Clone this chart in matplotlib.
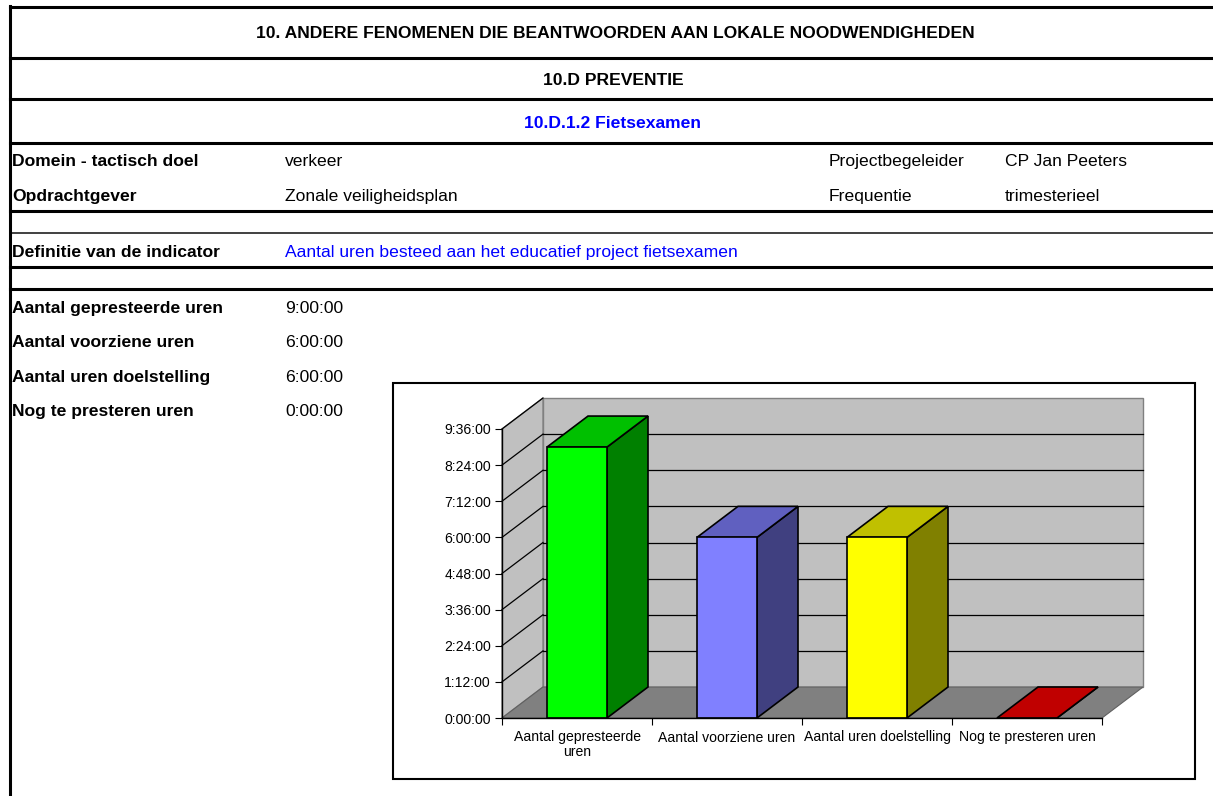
import matplotlib.pyplot as plt
import numpy as np
from matplotlib.patches import Rectangle, Polygon
from matplotlib.lines import Line2D

plt.rcParams['font.family'] = ['Liberation Sans', 'DejaVu Sans']

# gegevens
categorieen = ["Aantal gepresteerde\nuren", "Aantal voorziene uren",
               "Aantal uren doelstelling", "Nog te presteren uren"]
uren = [9.0, 6.0, 6.0, 0.0]          # in uren
uren_tekst = ["9:00:00", "6:00:00", "6:00:00", "0:00:00"]
y_ticks = np.arange(0, 9.61, 1.2)

kleur_voor = ["#00FF00", "#8080FF", "#FFFF00", "#FF0000"]
kleur_top = ["#00C000", "#6060C0", "#C0C000", "#C00000"]
kleur_zij = ["#008000", "#404080", "#808000", "#800000"]

W, H = 1213, 796
fig = plt.figure(figsize=(W / 100, H / 100), dpi=100)

def fx(x):
    return x / W

def fy(y):
    return 1 - y / H

# tabel lijnen
for y, lw, c in [(7, 2.2, "black"), (58, 2.2, "black"), (99, 2.2, "black"),
                 (143, 2.2, "black"), (211, 2.2, "black"), (233, 1.4, "#404040"),
                 (267, 2.2, "black"), (289, 2.2, "black")]:
    fig.add_artist(Line2D([fx(9.5), 1], [fy(y), fy(y)], color=c, lw=lw))
fig.add_artist(Line2D([fx(9.5), fx(9.5)], [fy(6), 0], color="black", lw=2.2))

fs = 12.6
fig.text(fx(615), fy(38), "10. ANDERE FENOMENEN DIE BEANTWOORDEN AAN LOKALE NOODWENDIGHEDEN",
         ha="center", va="baseline", fontsize=fs, weight="bold")
fig.text(fx(613), fy(85), "10.D PREVENTIE", ha="center", va="baseline", fontsize=fs, weight="bold")
fig.text(fx(613), fy(128), "10.D.1.2 Fietsexamen", ha="center", va="baseline",
         fontsize=fs, weight="bold", color="#0000FF")

rijen = [(166, "Domein - tactisch doel", "verkeer", "Projectbegeleider", "CP Jan Peeters"),
         (201, "Opdrachtgever", "Zonale veiligheidsplan", "Frequentie", "trimesterieel")]
for y, a, b, c, d in rijen:
    fig.text(fx(12), fy(y), a, va="baseline", fontsize=fs, weight="bold")
    fig.text(fx(285), fy(y), b, va="baseline", fontsize=fs)
    fig.text(fx(829), fy(y), c, va="baseline", fontsize=fs)
    fig.text(fx(1005), fy(y), d, va="baseline", fontsize=fs)

fig.text(fx(12), fy(257), "Definitie van de indicator", va="baseline", fontsize=fs, weight="bold")
fig.text(fx(285), fy(257), "Aantal uren besteed aan het educatief project fietsexamen",
         va="baseline", fontsize=fs, color="#0000FF")

for i, (lab, t) in enumerate(zip(categorieen, uren_tekst)):
    y = 313 + i * 34.3
    fig.text(fx(12), fy(y), lab.replace("\n", " "), va="baseline", fontsize=fs, weight="bold")
    fig.text(fx(285), fy(y), t, va="baseline", fontsize=fs)

# grafiekkader
fig.add_artist(Rectangle((fx(393), fy(779)), fx(1195 - 393), (779 - 383) / H,
                         transform=fig.transFigure, fc="white", ec="black", lw=1.5, zorder=0))

ax = fig.add_axes([fx(502), fy(718), fx(600), 289 / H])
ax.set_xlim(-0.5, 3.5)
ax.set_ylim(0, 9.6)
ax.patch.set_visible(False)

dx = 41 / 150          # diepte in categorie-eenheden
dy = 31 / (289 / 9.6)  # diepte in uren
x0, x1, ytop = -0.5, 3.5, 9.6

muur = "#C0C0C0"
rand = "#808080"
ax.add_patch(Polygon([(x0 + dx, dy), (x1 + dx, dy), (x1 + dx, ytop + dy), (x0 + dx, ytop + dy)],
                     fc=muur, ec=rand, lw=1, clip_on=False, zorder=1))
ax.add_patch(Polygon([(x0, 0), (x0, ytop), (x0 + dx, ytop + dy), (x0 + dx, dy)],
                     fc=muur, ec=rand, lw=1, clip_on=False, zorder=1))
ax.add_patch(Polygon([(x0, 0), (x1, 0), (x1 + dx, dy), (x0 + dx, dy)],
                     fc="#808080", ec="#606060", lw=0.8, clip_on=False, zorder=1))

for t in y_ticks[1:-1]:
    ax.plot([x0 + dx, x1 + dx], [t + dy, t + dy], color="black", lw=0.9, clip_on=False, zorder=2)
for t in y_ticks[1:]:
    ax.plot([x0, x0 + dx], [t, t + dy], color="black", lw=0.9, clip_on=False, zorder=2)

bw = 0.4
for i, v in enumerate(uren):
    l, r = i - bw / 2, i + bw / 2
    ax.add_patch(Polygon([(r, 0), (r + dx, dy), (r + dx, v + dy), (r, v)],
                         fc=kleur_zij[i], ec="black", lw=1.2, clip_on=False, zorder=3))
    ax.add_patch(Polygon([(l, v), (r, v), (r + dx, v + dy), (l + dx, v + dy)],
                         fc=kleur_top[i], ec="black", lw=1.2, clip_on=False, zorder=3))
    if v > 0:
        ax.add_patch(Rectangle((l, 0), bw, v, fc=kleur_voor[i], ec="black", lw=1.2,
                               clip_on=False, zorder=4))

for s in ["top", "right"]:
    ax.spines[s].set_visible(False)
for s in ["left", "bottom"]:
    ax.spines[s].set_color("black")
    ax.spines[s].set_linewidth(1)
    ax.spines[s].set_zorder(5)

ax.set_yticks(y_ticks)
ax.set_yticklabels([f"{int(round(t * 60)) // 60}:{int(round(t * 60)) % 60:02d}:00" for t in y_ticks],
                   fontsize=10.1)
ax.set_xticks(np.arange(-0.5, 3.6, 1))
ax.set_xticklabels([])
ax.set_xticks(range(4), minor=True)
ax.set_xticklabels(categorieen, minor=True, fontsize=10.1, linespacing=1.05)
ax.tick_params(axis="x", which="minor", length=0, pad=9)
ax.tick_params(axis="x", which="major", length=5, direction="out")
ax.tick_params(axis="y", length=5, direction="out", pad=3)

fig.savefig("out.png", dpi=100)
